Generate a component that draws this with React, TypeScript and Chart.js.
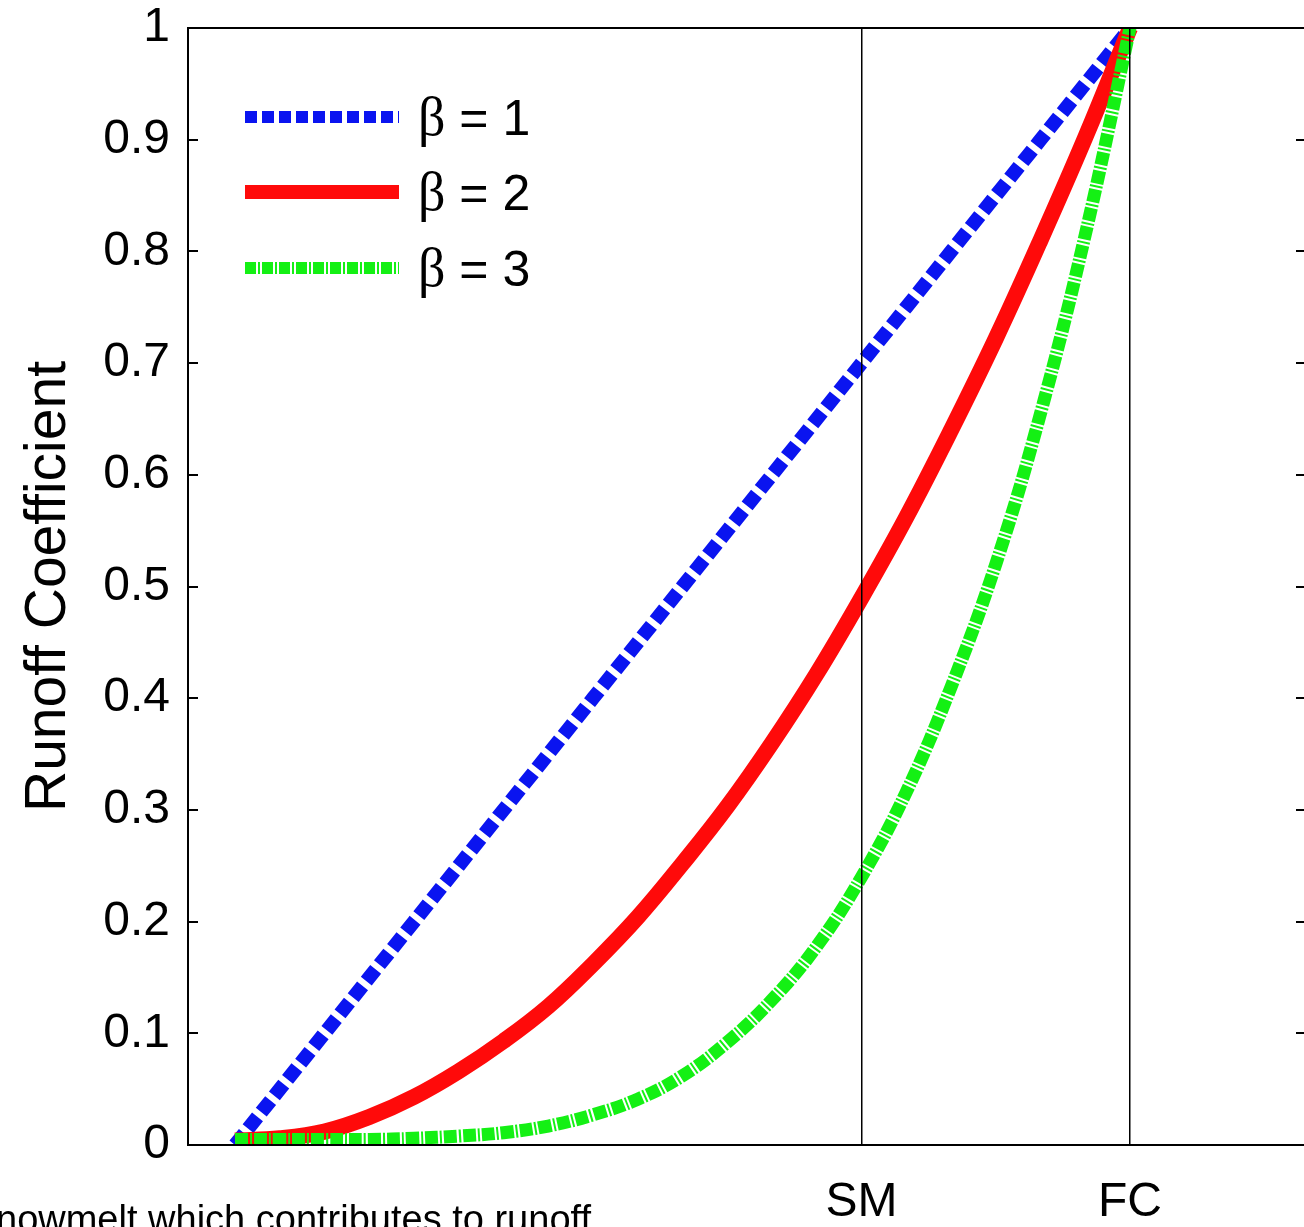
import React, { useEffect, useRef } from "react";
import { Chart, registerables } from "chart.js";

Chart.register(...registerables);

// Soil moisture, as a fraction of the way from the start of runoff (0) to field capacity (1)
const xValues = [0, 0.05, 0.1, 0.15, 0.2, 0.25, 0.3, 0.35, 0.4, 0.45, 0.5, 0.55, 0.6, 0.65, 0.7, 0.75, 0.8, 0.85, 0.9, 0.95, 1];
const beta1Values = [0, 0.05, 0.1, 0.15, 0.2, 0.25, 0.3, 0.35, 0.4, 0.45, 0.5, 0.55, 0.6, 0.65, 0.7, 0.75, 0.8, 0.85, 0.9, 0.95, 1];
const beta2Values = [0.004, 0.006, 0.012, 0.025, 0.043, 0.066, 0.093, 0.124, 0.162, 0.204, 0.252, 0.303, 0.36, 0.422, 0.49, 0.562, 0.64, 0.722, 0.81, 0.902, 1];
const beta3Values = [0.005, 0.005, 0.005, 0.005, 0.006, 0.008, 0.011, 0.017, 0.027, 0.041, 0.062, 0.092, 0.13, 0.178, 0.24, 0.316, 0.41, 0.52, 0.655, 0.815, 1];

const seriesLabels = ["1", "2", "3"];
const yTickValues = [0, 0.1, 0.2, 0.3, 0.4, 0.5, 0.6, 0.7, 0.8, 0.9, 1];
const yTickLabels = ["0", "0.1", "0.2", "0.3", "0.4", "0.5", "0.6", "0.7", "0.8", "0.9", "1"];
const xTickValues = [0.7, 1];
const xTickLabels = ["SM", "FC"];
const yTitle = "Runoff Coefficient";
const footText = "nowmelt which contributes to runoff";
const xMin = -0.0525;
const xMax = 1.1966;

const SANS = "'Liberation Sans', Arial, Helvetica, sans-serif";
const SERIF = "'Liberation Serif', 'Times New Roman', serif";

const framePlugin = {
  id: "frameAndTicks",
  afterDatasetsDraw(chart: any) {
    const { ctx, chartArea } = chart;
    const { left, right, top, bottom } = chartArea;
    const yScale = chart.scales.y;
    ctx.save();
    ctx.strokeStyle = "#000";
    ctx.lineWidth = 2;
    ctx.setLineDash([]);
    ctx.strokeRect(left, top, right - left, bottom - top);
    yTickValues.forEach((v) => {
      const y = Math.round(yScale.getPixelForValue(v));
      ctx.beginPath();
      ctx.moveTo(left, y);
      ctx.lineTo(left + 10, y);
      ctx.moveTo(right - 10, y);
      ctx.lineTo(right, y);
      ctx.stroke();
    });
    ctx.restore();
  },
};

const legendRows = [
  { y: 117, width: 12, dash: [12, 5] },
  { y: 192, width: 14, dash: [] as number[] },
  { y: 268, width: 12, dash: [11, 2, 2, 2] },
];

const legendPlugin = {
  id: "betaLegend",
  afterDraw(chart: any) {
    const { ctx } = chart;
    ctx.save();
    chart.data.datasets.forEach((ds: any, i: number) => {
      const row = legendRows[i];
      const y = row.y;
      ctx.beginPath();
      ctx.strokeStyle = ds.borderColor;
      ctx.lineWidth = row.width;
      ctx.lineCap = "butt";
      ctx.setLineDash(row.dash);
      ctx.moveTo(245, y);
      ctx.lineTo(399, y);
      ctx.stroke();
      ctx.setLineDash([]);
      ctx.fillStyle = "#000";
      ctx.textBaseline = "alphabetic";
      ctx.textAlign = "left";
      ctx.font = `54px ${SERIF}`;
      ctx.fillText("\u03B2", 418, y + 18);
      const bw = ctx.measureText("\u03B2").width;
      ctx.font = `50px ${SANS}`;
      ctx.fillText(" = " + seriesLabels[i], 418 + bw, y + 18);
    });
    ctx.restore();
  },
};

export default function App() {
  const canvasRef = useRef<HTMLCanvasElement | null>(null);

  useEffect(() => {
    const canvas = canvasRef.current;
    if (!canvas) return;
    Chart.defaults.font.family = SANS;
    Chart.defaults.color = "#000";
    const mk = (vals: number[]) => xValues.map((x, i) => ({ x, y: vals[i] }));
    const chart = new Chart(canvas, {
      type: "line",
      data: {
        datasets: [
          {
            label: "\u03B2 = " + seriesLabels[0],
            data: mk(beta1Values),
            borderColor: "#0a14f0",
            borderWidth: 14,
            borderDash: [15, 6],
            pointRadius: 0,
            tension: 0,
            order: 3,
            clip: 0,
          },
          {
            label: "\u03B2 = " + seriesLabels[1],
            data: mk(beta2Values),
            borderColor: "#ff0a0a",
            borderWidth: 16,
            pointRadius: 0,
            tension: 0.4,
            order: 2,
            clip: 0,
          },
          {
            label: "\u03B2 = " + seriesLabels[2],
            data: mk(beta3Values),
            borderColor: "#14f014",
            borderWidth: 13,
            borderDash: [13, 2, 2, 2],
            pointRadius: 0,
            tension: 0.4,
            order: 1,
            clip: 0,
          },
        ] as any,
      },
      options: {
        animation: false,
        responsive: false,
        devicePixelRatio: 1,
        layout: { padding: { top: 28, right: 6, left: 0, bottom: 0 } },
        plugins: {
          legend: { display: false },
          tooltip: { enabled: false },
        },
        scales: {
          x: {
            type: "linear",
            min: xMin,
            max: xMax,
            afterBuildTicks: (scale: any) => {
              scale.ticks = xTickValues.map((v) => ({ value: v }));
            },
            afterFit: (scale: any) => {
              scale.height = 82;
              scale.paddingLeft = 0;
              scale.paddingRight = 0;
            },
            ticks: {
              autoSkip: false,
              maxRotation: 0,
              padding: 29,
              font: { size: 48, family: SANS },
              color: "#000",
              callback: (_v: any, i: number) => xTickLabels[i],
            },
            grid: {
              z: 1,
              color: "#000",
              lineWidth: 1.5,
              drawTicks: false,
              drawOnChartArea: true,
            },
            border: { display: false },
          },
          y: {
            type: "linear",
            min: 0,
            max: 1,
            afterBuildTicks: (scale: any) => {
              scale.ticks = yTickValues.map((v) => ({ value: v }));
            },
            afterFit: (scale: any) => {
              scale.width = 188;
              scale.paddingTop = 0;
              scale.paddingBottom = 0;
            },
            ticks: {
              autoSkip: false,
              padding: 18,
              font: { size: 48, family: SANS },
              color: "#000",
              callback: (_v: any, i: number) => yTickLabels[i],
            },
            grid: { display: false, drawTicks: false },
            border: { display: false },
            title: {
              display: true,
              text: yTitle,
              font: { size: 57, family: SANS },
              color: "#000",
              padding: { top: 15, bottom: 0 },
            },
          },
        },
      } as any,
      plugins: [framePlugin, legendPlugin],
    });
    return () => chart.destroy();
  }, []);

  return (
    <div
      style={{
        position: "fixed",
        left: 0,
        top: 0,
        width: 1304,
        height: 1227,
        overflow: "hidden",
        background: "#fff",
      }}
    >
      <canvas
        ref={canvasRef}
        width={1312}
        height={1227}
        style={{ position: "absolute", left: 0, top: 0, width: 1312, height: 1227 }}
      />
      <div
        style={{
          position: "absolute",
          left: -4,
          top: 1198,
          fontFamily: SANS,
          fontSize: 38,
          lineHeight: "42px",
          color: "#000",
          whiteSpace: "nowrap",
        }}
      >
        {footText}
      </div>
    </div>
  );
}
